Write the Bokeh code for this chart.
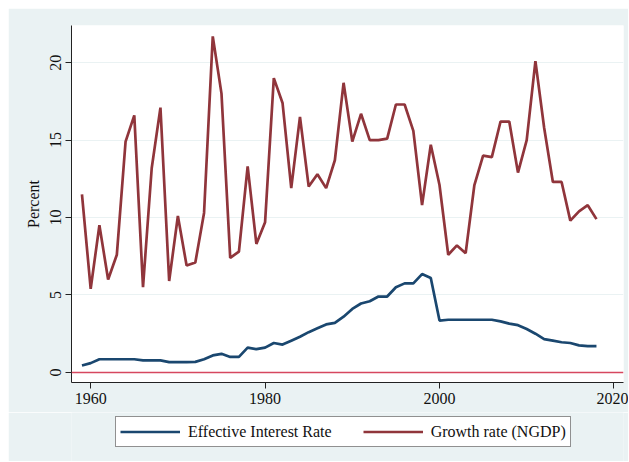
from bokeh.plotting import figure
from bokeh.layouts import column
from bokeh.models import Range1d, FixedTicker, Span, Legend, LegendItem
from bokeh.embed import file_html
from bokeh.resources import INLINE

years = list(range(1959, 2019))
ngdp_growth = [11.5, 5.4, 9.5, 6.0, 7.6, 14.9, 16.6, 5.5, 13.2, 17.1,
               5.9, 10.1, 6.9, 7.1, 10.3, 21.7, 18.0, 7.4, 7.8, 13.3,
               8.3, 9.7, 19.0, 17.4, 11.9, 16.5, 12.0, 12.8, 11.9, 13.7,
               18.7, 14.9, 16.7, 15.0, 15.0, 15.1, 17.3, 17.3, 15.6, 10.8,
               14.7, 12.1, 7.6, 8.2, 7.7, 12.1, 14.0, 13.9, 16.2, 16.2,
               12.9, 15.0, 20.1, 15.8, 12.3, 12.3, 9.8, 10.4, 10.8, 9.9]
eff_rate = [0.45, 0.6, 0.85, 0.85, 0.85, 0.85, 0.85, 0.78, 0.78, 0.78,
            0.67, 0.67, 0.67, 0.68, 0.85, 1.1, 1.2, 1.0, 1.0, 1.6,
            1.5, 1.6, 1.9, 1.8, 2.05, 2.3, 2.6, 2.85, 3.1, 3.2,
            3.6, 4.1, 4.45, 4.6, 4.9, 4.9, 5.5, 5.75, 5.75, 6.35,
            6.1, 3.35, 3.4, 3.4, 3.4, 3.4, 3.4, 3.4, 3.3, 3.15,
            3.05, 2.8, 2.5, 2.15, 2.05, 1.95, 1.9, 1.75, 1.7, 1.7]
x_ticks = [1960, 1980, 2000, 2020]
y_ticks = [0, 5, 10, 15, 20]
series_labels = ["Effective Interest Rate", "Growth rate (NGDP)"]

BG = "#EAF2F3"
BLUE = "#1A476F"
RED = "#90353B"
FONT = "Liberation Serif"
TXT = "#111111"

p = figure(width=620, height=404, output_backend="svg", toolbar_location=None,
           x_range=Range1d(1957.8, 2021.1), y_range=Range1d(-0.65, 22.4),
           min_border_left=63, min_border_top=17, min_border_right=5,
           min_border_bottom=30)
p.border_fill_color = BG
p.background_fill_color = "white"
p.outline_line_color = None

p.xgrid.grid_line_color = None
p.ygrid.grid_line_color = BG
p.ygrid.grid_line_width = 1.2
p.ygrid.ticker = FixedTicker(ticks=[5, 10, 15, 20])

p.xaxis.ticker = FixedTicker(ticks=x_ticks)
p.yaxis.ticker = FixedTicker(ticks=y_ticks)
for ax in (p.xaxis, p.yaxis):
    ax.axis_line_color = "#222222"
    ax.major_tick_line_color = "#222222"
    ax.major_tick_out = 6
    ax.major_tick_in = 0
    ax.minor_tick_line_color = None
    ax.major_label_text_font = FONT
    ax.major_label_text_font_size = "16px"
    ax.major_label_text_color = TXT
p.yaxis.major_label_orientation = "vertical"
p.yaxis.major_label_standoff = 4
p.xaxis.major_label_standoff = 4
p.yaxis.axis_label = "Percent"
p.yaxis.axis_label_text_font = FONT
p.yaxis.axis_label_text_font_size = "16px"
p.yaxis.axis_label_text_font_style = "normal"
p.yaxis.axis_label_text_color = TXT
p.yaxis.axis_label_standoff = 6

p.add_layout(Span(location=0, dimension="width", line_color="#D6475F", line_width=1.5))

r1 = p.line(years, eff_rate, line_color=BLUE, line_width=2.7)
r2 = p.line(years, ngdp_growth, line_color=RED, line_width=2.7)

# legend strip below the chart (proxy lines lie outside its visible range)
q = figure(width=620, height=49, output_backend="svg", toolbar_location=None,
           x_range=Range1d(0, 1), y_range=Range1d(-1, 0),
           x_axis_location=None, y_axis_location=None,
           min_border=0, min_border_left=0, min_border_right=0,
           min_border_top=0, min_border_bottom=0)
q.border_fill_color = BG
q.background_fill_color = BG
q.outline_line_color = None
q.grid.grid_line_color = None
l1 = q.line(years, eff_rate, line_color=BLUE, line_width=2.7)
l2 = q.line(years, ngdp_growth, line_color=RED, line_width=2.7)

legend = Legend(items=[LegendItem(label=series_labels[0], renderers=[l1]),
                       LegendItem(label=series_labels[1], renderers=[l2])],
                orientation="horizontal", location=(44, 14),
                glyph_width=60, glyph_height=21, label_standoff=8,
                spacing=31, padding=4, margin=0,
                border_line_color="#222222", border_line_width=1,
                background_fill_color="white", background_fill_alpha=1,
                label_text_font=FONT, label_text_font_size="16px",
                label_text_color=TXT)
q.add_layout(legend, "center")

layout = column(p, q, spacing=0, margin=(8, 0, 0, 8))
open("out.html", "w").write(file_html(layout, INLINE))
